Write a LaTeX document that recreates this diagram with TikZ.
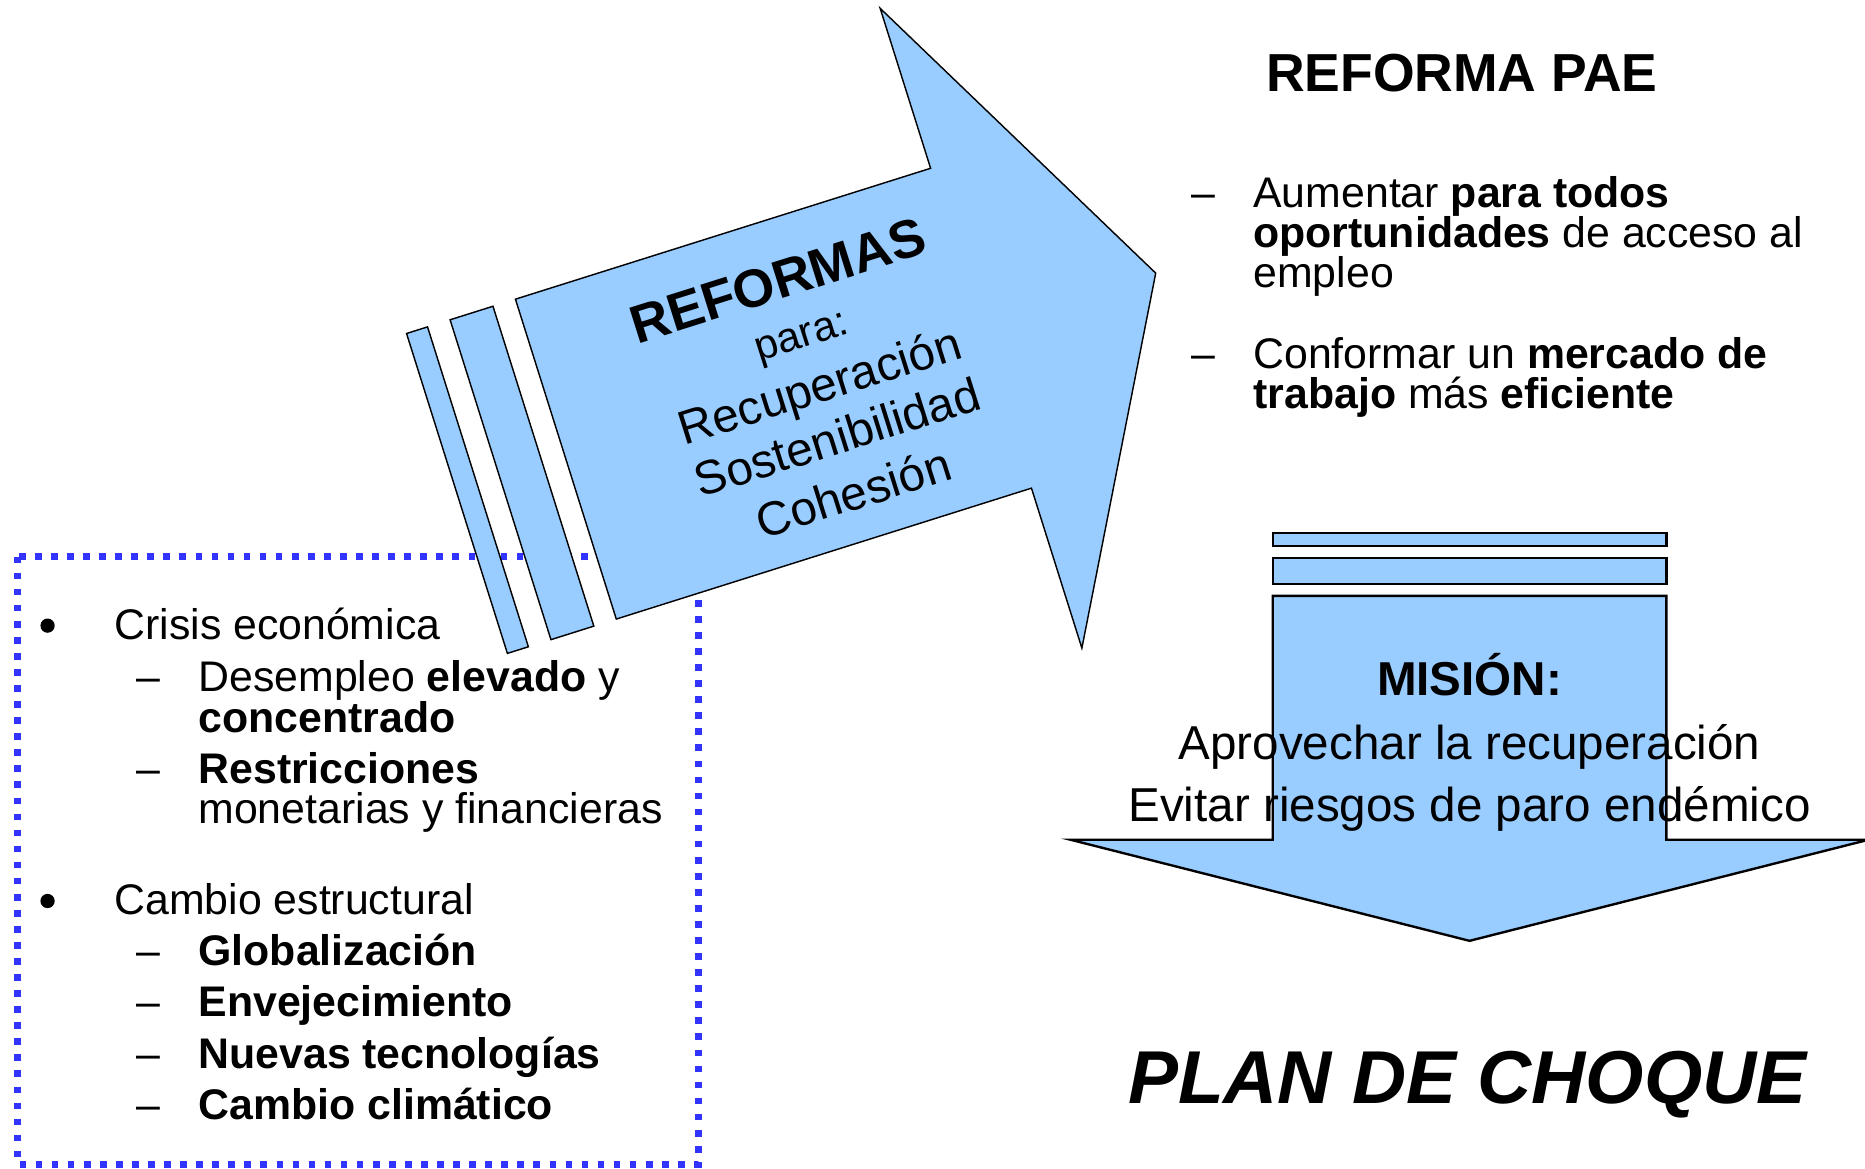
\documentclass[tikz,border=0pt]{standalone}
\usepackage{fontspec}
\setmainfont{Liberation Sans}
\definecolor{arrowblue}{RGB}{153,204,255}
\definecolor{dotblue}{RGB}{51,51,255}
\newcommand{\fsz}[1]{\fontsize{#1pt}{#1pt}\selectfont}

\begin{document}
\begin{tikzpicture}[x=1pt, y=-1pt,
        bluepart/.style={fill=arrowblue, draw=black, line width=1.2pt},
        listtext/.style={inner sep=0pt, anchor=base west, font=\fsz{36}},
        itemsign/.style={inner sep=0pt, anchor=base, font=\fsz{36}},
        bulletdot/.style={circle, fill=black, inner sep=0pt, minimum size=12pt},
        midtext/.style={inner sep=0pt, anchor=base, font=\fsz{40}}]
    \useasboundingbox (0,0) rectangle (1568,982);

    % dotted frame
    \draw[dotblue, line width=5.6pt, dash pattern=on 5.6pt off 7.9pt] (14.5,468) rectangle (587,979);

    % big arrow
    \begin{scope}[shift={(475.75,386)}, rotate=17.5, transform shape]
        \draw[bluepart] (-96,-141) -- (-77.5,-141) -- (-77.5,141) -- (-96,141) -- cycle;
        \draw[bluepart] (-57.6,-141) -- (-19.8,-141) -- (-19.8,141) -- (-57.6,141) -- cycle;
        \draw[bluepart] (0,-141) -- (366,-141) -- (366,-282) -- (520,0)
            -- (366,282) -- (366,141) -- (0,141) -- cycle;
        \node[inner sep=0pt, anchor=base, font=\fsz{45}\bfseries] (reformas) at (215,-74) {REFORMAS};
        \node[inner sep=0pt, anchor=base, font=\fsz{35}] (para) at (220,-29) {para:};
        \node[midtext] (recup) at (222,19) {Recuperación};
        \node[midtext] (sosten) at (223,65) {Sostenibilidad};
        \node[midtext] (cohes) at (222,114) {Cohesión};
    \end{scope}

    % left list
    \node[bulletdot] (b1) at (40,526) {};
    \node[listtext] (crisis) at (96,537.5) {Crisis económica};
    \node[itemsign] (d11) at (125,581.5) {--};
    \node[listtext] (desem1) at (166.7,581.5) {Desempleo \textbf{elevado} y};
    \node[listtext] (desem2) at (166.7,616) {\textbf{concentrado}};
    \node[itemsign] (d12) at (125,658.6) {--};
    \node[listtext] (restr1) at (166.7,658.6) {\textbf{Restricciones}};
    \node[listtext] (restr2) at (166.7,692.7) {monetarias y financieras};
    \node[bulletdot] (b2) at (40,757.5) {};
    \node[listtext] (cambio) at (96,769) {Cambio estructural};
    \node[itemsign] (d21) at (125,812) {--};
    \node[listtext] (glob) at (166.7,812) {\textbf{Globalización}};
    \node[itemsign] (d22) at (125,855) {--};
    \node[listtext] (envej) at (166.7,855) {\textbf{Envejecimiento}};
    \node[itemsign] (d23) at (125,898) {--};
    \node[listtext] (nuevas) at (166.7,898) {\textbf{Nuevas tecnologías}};
    \node[itemsign] (d24) at (125,941) {--};
    \node[listtext] (clima) at (166.7,941) {\textbf{Cambio climático}};

    % right list
    \node[inner sep=0pt, anchor=base, font=\fsz{45}\bfseries] (pae) at (1229,77) {REFORMA PAE};
    \node[itemsign] (d31) at (1012,174.5) {--};
    \node[listtext] (aum1) at (1053.6,174.5) {Aumentar \textbf{para todos}};
    \node[listtext] (aum2) at (1053.6,208) {\textbf{oportunidades} de acceso al};
    \node[listtext] (aum3) at (1053.6,242) {empleo};
    \node[itemsign] (d32) at (1012,309.8) {--};
    \node[listtext] (conf1) at (1053.6,309.8) {Conformar un \textbf{mercado de}};
    \node[listtext] (conf2) at (1053.6,343.8) {\textbf{trabajo} más \textbf{eficiente}};

    % down arrow
    \draw[bluepart, line width=2pt] (1070,448) rectangle (1401,459);
    \draw[bluepart, line width=2pt] (1070,469) rectangle (1401,491);
    \draw[bluepart, line width=2pt] (1070,501) -- (1401,501) -- (1401,706) -- (1571,706)
        -- (1235.5,791) -- (900,706) -- (1070,706) -- cycle;
    \node[midtext, font=\fsz{40}\bfseries] (mision) at (1235.5,584.6) {MISIÓN:};
    \node[midtext] (aprov) at (1235.5,638.6) {Aprovechar la recuperación};
    \node[midtext] (evitar) at (1235.5,691) {Evitar riesgos de paro endémico};

    \node[inner sep=0pt, anchor=base, font=\fsz{63}\bfseries\itshape] (plan) at (1233.7,927.8) {PLAN DE CHOQUE};
\end{tikzpicture}
\end{document}
